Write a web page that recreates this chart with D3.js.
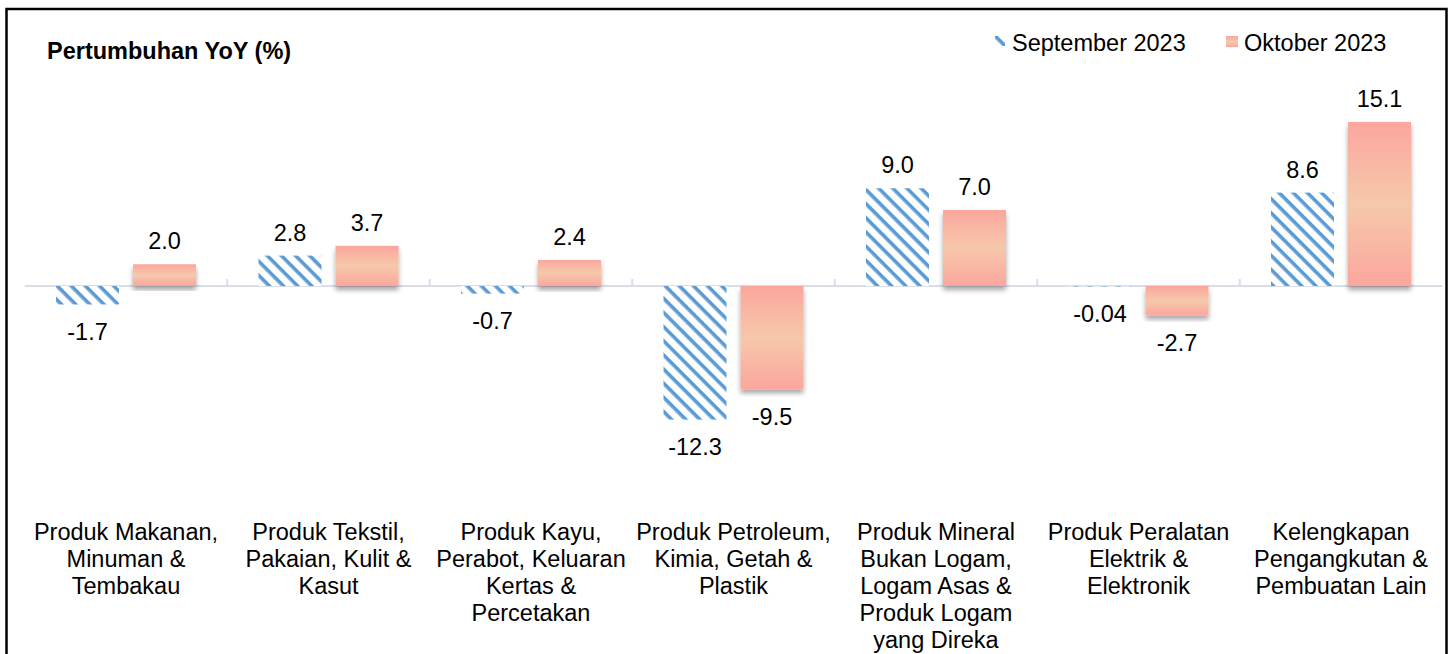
<!DOCTYPE html>
<html>
<head>
<meta charset="utf-8">
<script src="https://cdn.jsdelivr.net/npm/d3@7"></script>
<style>
  body { margin: 0; background: #fff; }
  svg { display: block; font-family: "Liberation Sans", Arial, sans-serif; }
</style>
</head>
<body>
<div id="chart"></div>
<script>
// data
var categories = [
    ["Produk Makanan,", "Minuman &", "Tembakau"],
    ["Produk Tekstil,", "Pakaian, Kulit &", "Kasut"],
    ["Produk Kayu,", "Perabot, Keluaran", "Kertas &", "Percetakan"],
    ["Produk Petroleum,", "Kimia, Getah &", "Plastik"],
    ["Produk Mineral", "Bukan Logam,", "Logam Asas &", "Produk Logam", "yang Direka"],
    ["Produk Peralatan", "Elektrik &", "Elektronik"],
    ["Kelengkapan", "Pengangkutan &", "Pembuatan Lain"]
];
var seriesNames = ["September 2023", "Oktober 2023"];
var sep2023 = [-1.7, 2.8, -0.7, -12.3, 9.0, -0.04, 8.6];
var okt2023 = [2.0, 3.7, 2.4, -9.5, 7.0, -2.7, 15.1];
var valueLabels = [
    ["-1.7", "2.8", "-0.7", "-12.3", "9.0", "-0.04", "8.6"],
    ["2.0", "3.7", "2.4", "-9.5", "7.0", "-2.7", "15.1"]
];

var W = 1456, H = 654;
var svg = d3.select("#chart").append("svg").attr("width", W).attr("height", H);

var defs = svg.append("defs");

// hatch for September (lines running top-left to bottom-right)
var pat = defs.append("pattern").attr("id", "hatch")
    .attr("patternUnits", "userSpaceOnUse")
    .attr("width", 10).attr("height", 10)
    .attr("patternTransform", "rotate(45)");
pat.append("rect").attr("width", 10).attr("height", 10).attr("fill", "#fff");
pat.append("rect").attr("x", 0).attr("y", 0).attr("width", 10).attr("height", 3.6).attr("fill", "#5b9bd5");

// gradient for Oktober
var grad = defs.append("linearGradient").attr("id", "pinkGrad")
    .attr("x1", 0).attr("y1", 0).attr("x2", 0).attr("y2", 1);
grad.append("stop").attr("offset", "0%").attr("stop-color", "#fba69e");
grad.append("stop").attr("offset", "50%").attr("stop-color", "#f6c8aa");
grad.append("stop").attr("offset", "100%").attr("stop-color", "#fba69e");

var shadow = defs.append("filter").attr("id", "shadow")
    .attr("x", "-10%").attr("y", "-10%").attr("width", "120%").attr("height", "130%");
shadow.append("feDropShadow").attr("dx", 0).attr("dy", 4).attr("stdDeviation", 2.5)
    .attr("flood-color", "#000").attr("flood-opacity", 0.35);

// frame
svg.append("rect").attr("x", 6.5).attr("y", 9).attr("width", 1440).attr("height", 700)
    .attr("fill", "none").attr("stroke", "#000").attr("stroke-width", 2.5);

// scales
var x = d3.scaleBand().domain(d3.range(categories.length)).range([24.75, 1442.25]).padding(0);
var y = d3.scaleLinear().domain([-12.3, 15.1]).range([419.6, 122]);
var barW = 63, gap = 14;

// zero axis
svg.append("line").attr("x1", x.range()[0]).attr("x2", x.range()[1])
    .attr("y1", y(0)).attr("y2", y(0)).attr("stroke", "#d9dde6").attr("stroke-width", 2);
d3.range(1, categories.length).forEach(function(i) {
    svg.append("line").attr("x1", x(i)).attr("x2", x(i))
        .attr("y1", y(0) - 7).attr("y2", y(0)).attr("stroke", "#d9dde6").attr("stroke-width", 2);
});

var data = categories.map(function(c, i) { return {i: i, v: [sep2023[i], okt2023[i]]}; });

function barX(i, s) {
    var c = x(i) + x.bandwidth() / 2;
    return s === 0 ? c - gap / 2 - barW : c + gap / 2;
}

// bars
[0, 1].forEach(function(s) {
    svg.selectAll(".bar" + s).data(data).enter().append("rect")
        .attr("class", "bar" + s)
        .attr("x", function(d) { return barX(d.i, s); })
        .attr("y", function(d) { return y(Math.max(0, d.v[s])); })
        .attr("width", barW)
        .attr("height", function(d) { return Math.abs(y(d.v[s]) - y(0)); })
        .attr("fill", s === 0 ? "url(#hatch)" : "url(#pinkGrad)")
        .attr("filter", s === 1 ? "url(#shadow)" : null);
});

// value labels
[0, 1].forEach(function(s) {
    svg.selectAll(".lab" + s).data(data).enter().append("text")
        .attr("x", function(d) { return barX(d.i, s) + barW / 2; })
        .attr("y", function(d) {
            return d.v[s] >= 0 ? y(d.v[s]) - 15 : y(d.v[s]) + 35.5;
        })
        .attr("text-anchor", "middle")
        .attr("font-size", 23.5)
        .attr("fill", "#000")
        .text(function(d) { return valueLabels[s][d.i]; });
});

// category labels
categories.forEach(function(lines, i) {
    var t = svg.append("text").attr("text-anchor", "middle").attr("font-size", 23.5).attr("fill", "#000");
    lines.forEach(function(l, k) {
        t.append("tspan").attr("x", x(i) + x.bandwidth() / 2).attr("y", 539.5 + k * 27).text(l);
    });
});

// title
svg.append("text").attr("x", 47).attr("y", 58.5).attr("font-size", 23.5).attr("font-weight", "bold")
    .text("Pertumbuhan YoY (%)");

// legend
var lg = svg.append("g");
lg.append("rect").attr("x", 995).attr("y", 36).attr("width", 10).attr("height", 10).attr("fill", "url(#hatch)");
lg.append("text").attr("x", 1012).attr("y", 50.5).attr("font-size", 23.5).text(seriesNames[0]);
lg.append("rect").attr("x", 1226).attr("y", 36).attr("width", 12).attr("height", 11).attr("fill", "url(#pinkGrad)");
lg.append("text").attr("x", 1244).attr("y", 50.5).attr("font-size", 23.5).text(seriesNames[1]);
</script>
</body>
</html>
